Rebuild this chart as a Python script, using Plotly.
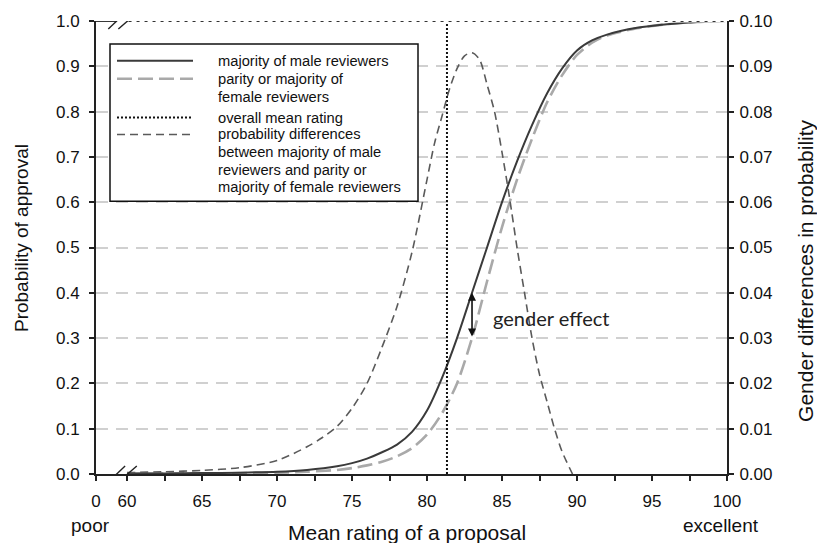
import plotly.graph_objects as go

# ---------------- data ----------------
rating = [60, 62.5, 65, 67.5, 70, 72, 74, 75, 76, 77, 78, 79, 80, 81, 82, 83, 84,
          85, 86, 87, 88, 89, 90, 91, 92, 94, 96, 98, 100]
p_male = [0.001, 0.001, 0.002, 0.003, 0.005, 0.009, 0.017, 0.024, 0.034, 0.048,
          0.065, 0.093, 0.14, 0.212, 0.30, 0.40, 0.50, 0.60, 0.69, 0.77, 0.84,
          0.895, 0.935, 0.957, 0.970, 0.985, 0.993, 0.998, 1.0]
p_female = [0.0005, 0.001, 0.001, 0.002, 0.003, 0.005, 0.009, 0.013, 0.019, 0.027,
            0.039, 0.057, 0.087, 0.134, 0.20, 0.30, 0.425, 0.545, 0.65, 0.74, 0.82,
            0.88, 0.925, 0.952, 0.968, 0.984, 0.993, 0.998, 1.0]

diff_rating = [60, 62.5, 65, 67.5, 70, 72, 73, 74, 75, 76, 77, 78, 79, 80, 80.5, 81,
               81.5, 82, 82.5, 83, 83.5, 84, 84.5, 85, 85.5, 86, 86.5, 87, 87.5, 88,
               88.5, 89, 89.7]
diff = [0.0003, 0.0005, 0.0008, 0.0014, 0.003, 0.006, 0.008, 0.0105, 0.0145, 0.020,
        0.028, 0.037, 0.049, 0.065, 0.073, 0.079, 0.085, 0.0895, 0.0923, 0.093,
        0.0915, 0.086, 0.080, 0.071, 0.061, 0.050, 0.040, 0.030, 0.022, 0.016,
        0.010, 0.005, 0.0]

mean_rating = 81.33
effect_x = 83.0
effect_low, effect_high = 0.30, 0.40

axis_start = 57.93            # position of the "0" tick (broken axis)
x_tickvals = [axis_start, 60, 62.5, 65, 67.5, 70, 72.5, 75, 77.5, 80, 82.5, 85,
              87.5, 90, 92.5, 95, 97.5, 100]
x_ticktext = ["0", "60", "", "65", "", "70", "", "75", "", "80", "", "85", "",
              "90", "", "95", "", "100"]
y_ticks = [0.0, 0.1, 0.2, 0.3, 0.4, 0.5, 0.6, 0.7, 0.8, 0.9, 1.0]
y2_ticks = [0.0, 0.01, 0.02, 0.03, 0.04, 0.05, 0.06, 0.07, 0.08, 0.09, 0.10]

legend_lines = ["majority of male reviewers", "parity or majority of",
                "female reviewers", "overall mean rating", "probability differences",
                "between majority of male", "reviewers and parity or",
                "majority of female reviewers"]

FONT = "Liberation Sans, Arial, sans-serif"

fig = go.Figure()

fig.add_trace(go.Scatter(x=diff_rating, y=diff, yaxis="y2", mode="lines",
                         line=dict(color="#5a5a5a", width=1.6, dash="8px,5px",
                                   shape="spline", smoothing=0.8),
                         showlegend=False))
fig.add_trace(go.Scatter(x=rating, y=p_female, mode="lines",
                         line=dict(color="#a9a9a9", width=2.6, dash="15px,6px",
                                   shape="spline", smoothing=0.8),
                         showlegend=False))
fig.add_trace(go.Scatter(x=rating, y=p_male, mode="lines",
                         line=dict(color="#3a3a3a", width=2,
                                   shape="spline", smoothing=0.8),
                         showlegend=False))
fig.add_trace(go.Scatter(x=[mean_rating, mean_rating], y=[0, 1], mode="lines",
                         line=dict(color="#111111", width=2, dash="2px,2px"),
                         showlegend=False))

shapes = []
# top frame: white backing, short solid piece, dotted line
shapes.append(dict(type="line", xref="x", yref="y", x0=59.3, x1=100, y0=1, y1=1,
                   line=dict(color="white", width=3), layer="above"))
shapes.append(dict(type="line", xref="x", yref="y", x0=axis_start, x1=59.3, y0=1, y1=1,
                   line=dict(color="#222", width=1.8), layer="above"))
shapes.append(dict(type="line", xref="x", yref="y", x0=60.1, x1=100, y0=1, y1=1,
                   line=dict(color="#333", width=2, dash="3px,5px"), layer="above"))
# axis breaks (bottom at y=0, top at y=1)
for yb in (0, 1):
    shapes.append(dict(type="line", xref="x", yref="y", ysizemode="pixel", yanchor=yb,
                       x0=59.35, x1=60.0, y0=0, y1=0,
                       line=dict(color="white", width=5), layer="above"))
    shapes.append(dict(type="line", xref="x", yref="y", ysizemode="pixel", yanchor=yb,
                       x0=58.75, x1=59.87, y0=-8, y1=8,
                       line=dict(color="#222", width=1.4), layer="above"))
    shapes.append(dict(type="line", xref="x", yref="y", ysizemode="pixel", yanchor=yb,
                       x0=59.42, x1=60.65, y0=-8, y1=8,
                       line=dict(color="#222", width=1.4), layer="above"))

# manual legend box
W, H = 631.0, 455.0
def px(x):
    return (x - 96) / W
def py(y):
    return (474 - y) / H

shapes.append(dict(type="rect", xref="paper", yref="paper", x0=px(110), x1=px(418),
                   y0=py(200), y1=py(42), line=dict(color="#111", width=1.5),
                   fillcolor="white", layer="above"))
legend_samples = [
    (59, dict(color="#3a3a3a", width=2)),
    (77, dict(color="#a9a9a9", width=2.6, dash="15px,6px")),
    (116, dict(color="#111111", width=2, dash="2px,2px")),
    (133, dict(color="#5a5a5a", width=1.6, dash="8px,5px")),
]
for yy, ln in legend_samples:
    shapes.append(dict(type="line", xref="paper", yref="paper", x0=px(117), x1=px(193),
                       y0=py(yy), y1=py(yy), line=ln, layer="above"))

annotations = []
legend_y = [59, 77, 95, 116, 133, 151, 169, 186]
for txt, yy in zip(legend_lines, legend_y):
    annotations.append(dict(xref="paper", yref="paper", x=px(216), y=py(yy),
                            text=txt, showarrow=False, xanchor="left", yanchor="middle",
                            font=dict(family=FONT, size=14.7, color="#111")))

# gender effect arrow & label
annotations.append(dict(x=effect_x, y=effect_high, ax=effect_x, ay=effect_low,
                        xref="x", yref="y", axref="x", ayref="y", text="",
                        showarrow=True, arrowhead=2, arrowside="end+start",
                        arrowsize=1, arrowwidth=1.6, arrowcolor="#111"))
annotations.append(dict(x=88.27, y=0.345, xref="x", yref="y", text="gender effect",
                        showarrow=False, xanchor="center", yanchor="middle",
                        font=dict(family="Lato, Carlito, sans-serif", size=20,
                                  color="#222")))

# axis titles and end labels
def label(x, y, text, size, angle=0):
    return dict(xref="paper", yref="paper", x=px(x), y=py(y), text=text,
                textangle=angle, showarrow=False, xanchor="center", yanchor="middle",
                font=dict(family=FONT, size=size, color="#111"))

annotations += [
    label(21, 237, "Probability of approval", 19, -90),
    label(806, 270, "Gender differences in probability", 21, -90),
    label(407, 533, "Mean rating of a proposal", 21),
    label(90, 526, "poor", 19),
    label(721, 526, "excellent", 19),
]

fig.update_layout(
    width=817, height=543, autosize=False,
    margin=dict(l=96, r=90, t=19, b=69, pad=0),
    paper_bgcolor="white", plot_bgcolor="white",
    font=dict(family=FONT, size=17, color="#111"),
    showlegend=False,
    xaxis=dict(range=[axis_start, 100], tickvals=x_tickvals, ticktext=x_ticktext,
               showline=True, linecolor="#222", linewidth=2, ticks="outside",
               ticklen=5, tickwidth=1.5, tickcolor="#222", showgrid=False,
               zeroline=False, tickfont=dict(size=17), ticklabelstandoff=6),
    yaxis=dict(range=[0, 1], tickvals=y_ticks, tickformat=".1f", showline=True,
               linecolor="#222", linewidth=2, ticks="outside", ticklen=5,
               tickwidth=1.5, tickcolor="#222", showgrid=True, gridcolor="#d0d0d0",
               gridwidth=1.5, griddash="12px,8px", zeroline=False,
               tickfont=dict(size=17), ticklabelstandoff=6),
    yaxis2=dict(range=[0, 0.1], tickvals=y2_ticks, tickformat=".2f", overlaying="y",
                side="right", showline=True, linecolor="#222", linewidth=2,
                ticks="outside", ticklen=5, tickwidth=1.5, tickcolor="#222",
                showgrid=False, zeroline=False, tickfont=dict(size=17),
                ticklabelstandoff=2),
    shapes=shapes,
    annotations=annotations,
)

fig.write_html("out.html", config={"displayModeBar": False},
               post_script="document.body.style.margin='0px';document.body.style.overflow='hidden';")
